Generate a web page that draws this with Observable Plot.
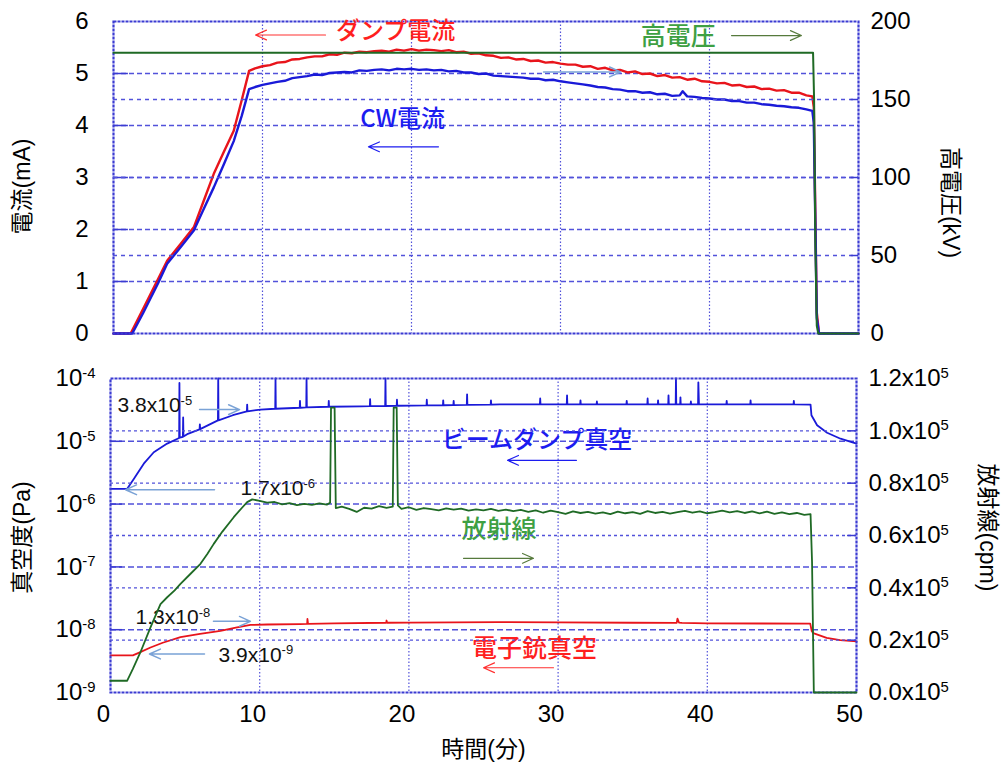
<!DOCTYPE html>
<html><head><meta charset="utf-8">
<script src="https://cdn.jsdelivr.net/npm/d3@7"></script>
<script src="https://cdn.jsdelivr.net/npm/@observablehq/plot@0.6"></script>
<style>
body{margin:0;background:#fff;}
#chart{position:relative;width:1001px;height:764px;background:#fff;}
#chart svg{position:absolute;left:0;top:0;}
</style></head><body><div id="chart"></div>
<script>
// ---------- tick values ----------
const xTicks = [0, 10, 20, 30, 40, 50];
const mATicks = [0, 1, 2, 3, 4, 5, 6];
const kVTicks = [0, 50, 100, 150, 200];
const paTicks = [1e-9, 1e-8, 1e-7, 1e-6, 1e-5, 1e-4];
const cpmTicks = [0, 20000, 40000, 60000, 80000, 100000, 120000];
const gridX = [10, 20, 30, 40];
const gridMA = [1, 2, 3, 4, 5];
const gridKV = [50, 100, 150];
const gridPa = [1e-8, 1e-7, 1e-6, 1e-5];
const gridCpm = [20000, 40000, 60000, 80000, 100000];

// ---------- top panel: currents (mA) and high voltage (kV) vs time (min) ----------
const dumpCurrent = [[0,0],[1.15,0],[2.0,0.48],[3.0,1.05],[3.6,1.40],[4.5,1.72],[5.4,2.05],[6.0,2.51],[6.73,3.07],[7.4,3.49],[8.07,3.90],[8.6,4.48],[9.1,5.05],
[9.5,5.10],[10,5.14],[10.5,5.16],[11,5.21],[11.5,5.22],[12,5.27],[12.5,5.28],[13,5.31],[13.5,5.33],[14,5.33],[14.5,5.37],[15,5.36],[15.5,5.40],[16,5.39],[16.5,5.42],[17,5.41],[17.5,5.43],[18,5.44],[18.5,5.42],[19,5.46],[19.5,5.44],[20,5.47],[20.5,5.44],[21,5.46],[21.5,5.45],[22,5.43],[22.5,5.45],[23,5.41],[23.5,5.42],[24,5.38],[24.5,5.39],[25,5.35],[25.5,5.34],[26,5.30],[26.5,5.31],[27,5.27],[27.5,5.28],[28,5.24],[28.5,5.25],[29,5.21],[29.5,5.22],[30,5.19],[30.5,5.17],[31,5.17],[31.5,5.13],[32,5.14],[32.5,5.09],[33,5.11],[33.5,5.06],[34,5.07],[34.5,5.02],[35,5.04],[35.5,4.99],[36,5.00],[36.5,4.95],[37,4.97],[37.5,4.92],[38,4.93],[38.5,4.88],[39,4.90],[39.5,4.85],[40,4.84],[40.5,4.81],[41,4.82],[41.5,4.77],[42,4.78],[42.5,4.74],[43,4.75],[43.5,4.70],[44,4.71],[44.5,4.67],[45,4.68],[45.5,4.63],[46,4.63],[46.5,4.58],[46.9,4.56],[47.0,4.35],[47.2,0.4],[47.35,0],[50,0]];
const cwCurrent = [[0,0],[1.26,0],[2.0,0.40],[3.0,0.97],[3.6,1.34],[4.5,1.66],[5.39,1.98],[6.0,2.36],[6.73,2.81],[7.4,3.25],[8.07,3.70],[8.6,4.18],[9.1,4.70],
[9.5,4.74],[10,4.78],[10.5,4.81],[11,4.84],[11.5,4.86],[12,4.91],[12.5,4.93],[13,4.95],[13.5,4.98],[14,4.97],[14.5,5.01],[15,5.02],[15.5,5.03],[16,5.02],[16.5,5.06],[17,5.05],[17.5,5.07],[18,5.08],[18.5,5.06],[19,5.09],[19.5,5.08],[20,5.09],[20.5,5.07],[21,5.08],[21.5,5.06],[22,5.07],[22.5,5.04],[23,5.05],[23.5,5.02],[24,5.02],[24.5,4.99],[25,5.00],[25.5,4.96],[26,4.95],[26.5,4.94],[27,4.93],[27.5,4.92],[28,4.90],[28.5,4.90],[29,4.87],[29.5,4.88],[30,4.85],[30.5,4.83],[31,4.81],[31.5,4.79],[32,4.77],[32.5,4.74],[33,4.73],[33.5,4.70],[34,4.69],[34.5,4.66],[35,4.66],[35.5,4.63],[36,4.64],[36.5,4.60],[37,4.61],[37.5,4.57],[38,4.58],[38.2,4.66],[38.5,4.56],[39,4.55],[39.5,4.53],[40,4.52],[40.5,4.50],[41,4.50],[41.5,4.47],[42,4.47],[42.5,4.44],[43,4.44],[43.5,4.41],[44,4.40],[44.5,4.38],[45,4.37],[45.5,4.35],[46,4.34],[46.5,4.31],[46.9,4.28],[47.0,4.05],[47.2,0.3],[47.35,0],[50,0]];
const highVoltage = [[0,180],[46.95,180],[47.02,150],[47.1,60],[47.2,5],[47.3,0],[50,0]];

// ---------- bottom panel: vacuum (Pa, log) and radiation (cpm) ----------
const dumpVacuum = [[0,1.75e-6],[1.12,1.75e-6],[1.56,2.5e-6],[2.23,4.4e-6],[2.9,6.7e-6],[3.8,9.2e-6],[4.6,1.13e-5],[4.62,8.5e-5],[4.64,1.14e-5],[4.85,1.18e-5],[4.87,2.4e-5],[4.89,1.19e-5],[5.14,1.3e-5],[5.97,1.55e-5],[5.99,1.86e-5],[6.01,1.56e-5],[7.2,2.15e-5],[7.22,1e-4],[7.24,2.16e-5],[8.2,2.6e-5],[9.14,3.0e-5],[9.16,3.85e-5],[9.18,3.0e-5],[10.05,3.2e-5],[11.04,3.3e-5],[11.06,1e-4],[11.08,3.3e-5],[12.68,3.42e-5],[12.7,4.4e-5],[12.72,3.42e-5],[13.12,3.48e-5],[13.14,1e-4],[13.16,3.48e-5],[14.61,3.55e-5],[14.63,4.4e-5],[14.65,3.55e-5],[16.8,3.6e-5],[17.38,3.62e-5],[17.4,4.7e-5],[17.42,3.62e-5],[18.41,3.65e-5],[18.43,1e-4],[18.45,3.65e-5],[19.18,3.68e-5],[19.2,4.6e-5],[19.22,3.68e-5],[21.18,3.72e-5],[21.2,4.6e-5],[21.22,3.72e-5],[22.28,3.75e-5],[22.3,4.5e-5],[22.32,3.75e-5],[22.98,3.78e-5],[23.0,4.4e-5],[23.02,3.78e-5],[23.88,3.8e-5],[23.9,5.6e-5],[23.92,3.8e-5],[25.48,3.85e-5],[25.5,4.5e-5],[25.52,3.85e-5],[26.1,3.88e-5],[28.78,3.88e-5],[28.8,4.8e-5],[28.82,3.88e-5],[30.58,3.88e-5],[30.6,5.4e-5],[30.62,3.88e-5],[31.48,3.88e-5],[31.5,4.5e-5],[31.52,3.88e-5],[32.58,3.88e-5],[32.6,4.3e-5],[32.62,3.88e-5],[34.58,3.88e-5],[34.6,4.4e-5],[34.62,3.88e-5],[35.98,3.88e-5],[36.0,4.8e-5],[36.02,3.88e-5],[36.68,3.88e-5],[36.7,4.5e-5],[36.72,3.88e-5],[37.38,3.88e-5],[37.4,5.4e-5],[37.42,3.88e-5],[37.88,3.88e-5],[37.9,1e-4],[37.92,3.88e-5],[38.18,3.88e-5],[38.2,5.0e-5],[38.22,3.88e-5],[38.88,3.88e-5],[38.9,4.3e-5],[38.92,3.88e-5],[39.38,3.88e-5],[39.4,8.7e-5],[39.44,3.88e-5],[41.28,3.87e-5],[41.3,4.4e-5],[41.32,3.87e-5],[42.88,3.87e-5],[42.9,4.5e-5],[42.92,3.87e-5],[45.78,3.86e-5],[45.8,4.4e-5],[45.82,3.86e-5],[46.92,3.85e-5],[46.98,2.6e-5],[47.36,1.8e-5],[48.03,1.37e-5],[48.93,1.1e-5],[50,9.2e-6]];
const gunVacuum = [[0,3.9e-9],[1.5,3.9e-9],[2.0,4.4e-9],[2.68,5.2e-9],[3.5,6.2e-9],[4.69,7.6e-9],[6.0,8.6e-9],[7.37,9.6e-9],[8.4,1.08e-8],[9.38,1.19e-8],[10.5,1.21e-8],[12.7,1.23e-8],[13.18,1.24e-8],[13.2,1.48e-8],[13.24,1.24e-8],[15,1.26e-8],[18.48,1.29e-8],[18.5,1.4e-8],[18.54,1.29e-8],[20,1.3e-8],[26,1.32e-8],[30,1.31e-8],[35,1.29e-8],[37.95,1.28e-8],[38.0,1.5e-8],[38.1,1.3e-8],[38.3,1.28e-8],[40,1.26e-8],[46.9,1.25e-8],[47.0,9.5e-9],[47.1,8.8e-9],[48.0,7.4e-9],[48.9,6.8e-9],[50,6.5e-9]];
const radiation = [[0,4500],[1.12,4500],[1.5,9000],[2.0,15300],[2.68,24900],[3.35,33800],[3.8,36400],[4.3,39000],[4.69,41500],[5.3,45000],[6.03,49200],[6.5,53000],[6.92,56800],[7.5,61500],[8.26,67000],[8.8,70500],[9.16,72750],[9.5,73800],
[10,73200],[10.5,72600],[11,72800],[11.5,71900],[12,72400],[12.5,71600],[13,72100],[13.5,71700],[14,72300],[14.5,71800],[14.72,72500],[14.78,108900],[15.02,108900],[15.1,70500],[15.5,71000],[16,70200],[16.5,69000],[17,70600],[17.5,70300],[18,71200],[18.5,70600],[18.92,71000],[18.98,108900],[19.18,108900],[19.26,71500],[19.5,70200],[20,70800],[20.5,69800],[21,70500],[21.5,70100],[22,69600],[22.5,70400],[23,69900],[23.5,70300],[24,69500],[24.5,70000],[25,69600],[25.5,70200],[26,69400],[26.5,69900],[27,69300],[27.5,69800],[28,69000],[28.5,69600],[29,68700],[29.5,69500],[30,68900],[30.5,68300],[31,69200],[31.5,68600],[32,69000],[32.5,68400],[33,68800],[33.5,68200],[34,69100],[34.5,68500],[35,68900],[35.5,68300],[36,69300],[36.5,68600],[37,69000],[37.5,68400],[38,68900],[38.5,69400],[39,68700],[39.5,69200],[40,68500],[40.5,68900],[41,69500],[41.5,68800],[42,69300],[42.5,68600],[43,69200],[43.5,68500],[44,69100],[44.5,68300],[45,68800],[45.5,68200],[46,68600],[46.5,67900],[46.92,68200],[47.02,50000],[47.14,0],[50,0]];

// ---------- styling ----------
const W = 1001, H = 764;
const NUM = "'Liberation Sans', Arial, 'Noto Sans CJK JP', sans-serif";
const CJK = "'Noto Sans CJK JP', 'Liberation Sans', sans-serif";
const FRAME = "#3b3bd2", GRID = "#5252da";
const RED = "#e8141b", BLUE = "#1a1ad8", GREEN = "#1f6a25";
const TXT_RED = "#ff1f1f", TXT_BLUE = "#1c1cf0", TXT_GREEN = "#3ea043", OLIVE = "#567a3c", STEEL = "#7aa2d6";
const tbl = arr => arr.map(([t, v]) => ({t, v}));
const baseStyle = {background: "transparent", fontFamily: NUM, color: "#000", overflow: "visible"};
const topM = {width: W, height: H, marginLeft: 113, marginRight: 143, marginTop: 21, marginBottom: 431};
const botM = {width: W, height: H, marginLeft: 110, marginRight: 145, marginTop: 378, marginBottom: 72};
const arrow = (x1, y1, x2, y2, stroke, sw = 1.2) => Plot.arrow([0], {x1, y1, x2, y2, stroke, strokeWidth: sw, headAngle: 48, headLength: 18 / sw});
const note = (text, x, y, fill, size = 24, anchor = "middle", font = CJK) => Plot.text([text], {x, y, text: d => d, fill, fontSize: size, textAnchor: anchor, fontFamily: font, fontWeight: 500});
const title = (text, anchor, dx, dy, rotate) => Plot.text([text], {frameAnchor: anchor, text: d => d, dx, dy, rotate, textAnchor: "middle", lineAnchor: "middle", fontSize: 23, fontFamily: NUM, fill: "#000"});

function superscripts(svg) {
  d3.select(svg).selectAll("text").each(function () {
    const s = this.textContent;
    if (!s.includes("^")) return;
    const [base, ex] = s.split("^");
    const el = d3.select(this);
    el.text(null);
    el.append("tspan").text(base);
    el.append("tspan").attr("font-size", "0.62em").attr("dy", "-0.55em").text(ex);
  });
  return svg;
}

// ---------- top-left: current (mA) ----------
const p1 = Plot.plot({
  ...topM, style: baseStyle,
  x: {domain: [0, 50], axis: null},
  y: {domain: [0, 6], label: null},
  marks: [
    Plot.ruleX(gridX, {stroke: GRID, strokeWidth: 1.2, strokeDasharray: "1.5,2"}),
    Plot.ruleY(gridMA, {stroke: GRID, strokeWidth: 1.4, strokeDasharray: "5,3"}),
    Plot.ruleY(mATicks.slice(1, -1), {x1: 0, x2: 1, stroke: FRAME, strokeWidth: 1.5}),
    Plot.line(tbl(dumpCurrent), {x: "t", y: "v", stroke: RED, strokeWidth: 2.4}),
    Plot.line(tbl(cwCurrent), {x: "t", y: "v", stroke: BLUE, strokeWidth: 2.4}),
    Plot.frame({stroke: FRAME, strokeWidth: 2.2, strokeDasharray: "3,1"}),
    Plot.axisY({anchor: "left", ticks: mATicks, tickSize: 0, tickPadding: 25, fontSize: 24, label: null, tickFormat: d => String(d)}),
    note("ダンプ電流", 18.93, 5.82, TXT_RED),
    arrow(14.23, 5.74, 9.53, 5.74, "#ff3030"),
    note("CW電流", 19.4, 4.11, TXT_BLUE),
    arrow(21.81, 3.59, 17.11, 3.59, TXT_BLUE),
    arrow(28.86, 5.03, 34.03, 5.03, STEEL, 1.5),
    title("電流(mA)", "left", -91, 9, -90)
  ]
});

// ---------- top-right: high voltage (kV) ----------
const p2 = Plot.plot({
  ...topM, style: baseStyle,
  x: {domain: [0, 50], axis: null},
  y: {domain: [0, 200], label: null},
  marks: [
    Plot.ruleY(gridKV, {stroke: GRID, strokeWidth: 1.4, strokeDasharray: "4,4"}),
    Plot.ruleY(kVTicks.slice(1, -1), {x1: 49.5, x2: 50, stroke: FRAME, strokeWidth: 1.5}),
    Plot.line(tbl(highVoltage), {x: "t", y: "v", stroke: GREEN, strokeWidth: 2}),
    Plot.axisY({anchor: "right", ticks: kVTicks, tickSize: 0, tickPadding: 12, fontSize: 24, label: null, tickFormat: d => String(d)}),
    note("高電圧", 37.9, 190, TXT_GREEN, 25),
    arrow(41.48, 191, 46.17, 191, OLIVE),
    title("高電圧(kV)", "right", 92, 25, 90)
  ]
});

// ---------- bottom-left: vacuum (Pa) ----------
const p3 = Plot.plot({
  ...botM, style: baseStyle,
  x: {domain: [0, 50], label: null},
  y: {type: "log", domain: [1e-9, 1e-4], label: null},
  marks: [
    Plot.ruleX(gridX, {stroke: GRID, strokeWidth: 1.2, strokeDasharray: "1.5,2"}),
    Plot.ruleY(gridPa, {stroke: GRID, strokeWidth: 1.5, strokeDasharray: "6,3"}),
    Plot.ruleY(paTicks.slice(1, -1), {x1: 0, x2: 0.8, stroke: FRAME, strokeWidth: 1.5}),
    Plot.line(tbl(dumpVacuum), {x: "t", y: "v", stroke: BLUE, strokeWidth: 1.8}),
    Plot.line(tbl(gunVacuum), {x: "t", y: "v", stroke: RED, strokeWidth: 1.8}),
    Plot.frame({stroke: FRAME, strokeWidth: 2.2, strokeDasharray: "3,1"}),
    Plot.axisY({anchor: "left", ticks: paTicks, tickSize: 0, tickPadding: 15, fontSize: 24, label: null, tickFormat: d => "10^" + Math.round(Math.log10(d))}),
    Plot.axisX({anchor: "bottom", ticks: xTicks, tickSize: 0, tickPadding: 12, fontSize: 24, label: null, dx: -7, tickFormat: d => String(d)}),
    note("ビームダンプ真空", 28.58, 1.04e-5, TXT_BLUE),
    arrow(31.23, 4.98e-6, 26.61, 4.98e-6, TXT_BLUE),
    note("放射線", 26.04, 3.8e-7, TXT_GREEN, 25),
    arrow(23.66, 1.37e-7, 28.35, 1.37e-7, OLIVE),
    note("電子銃真空", 28.42, 4.98e-9, TXT_RED, 25),
    arrow(29.69, 2.48e-9, 25.0, 2.48e-9, "#ff3030"),
    note("3.8x10^-5", 0.47, 3.75e-5, "#111", 21, "start", NUM),
    arrow(5.97, 3.2e-5, 8.65, 3.2e-5, STEEL, 1.5),
    note("1.7x10^-6", 8.71, 1.78e-6, "#111", 21, "start", NUM),
    arrow(6.97, 1.69e-6, 1.01, 1.69e-6, STEEL, 1.5),
    note("1.3x10^-8", 1.68, 1.58e-8, "#111", 21, "start", NUM),
    arrow(6.9, 1.36e-8, 9.38, 1.36e-8, STEEL, 1.5),
    note("3.9x10^-9", 7.24, 3.98e-9, "#111", 21, "start", NUM),
    arrow(6.3, 4.1e-9, 2.61, 4.1e-9, STEEL, 1.5),
    title("真空度(Pa)", "left", -88, 2, -90),
    Plot.text(["時間(分)"], {frameAnchor: "bottom", text: d => d, dy: 57, lineAnchor: "middle", fontSize: 23, fontFamily: NUM, fill: "#000"})
  ]
});

// ---------- bottom-right: radiation (cpm) ----------
const p4 = Plot.plot({
  ...botM, style: baseStyle,
  x: {domain: [0, 50], axis: null},
  y: {domain: [0, 120000], label: null},
  marks: [
    Plot.ruleY(gridCpm, {stroke: GRID, strokeWidth: 1.3, strokeDasharray: "3,3"}),
    Plot.ruleY(cpmTicks.slice(1, -1), {x1: 49.4, x2: 50, stroke: FRAME, strokeWidth: 1.5}),
    Plot.line(tbl(radiation), {x: "t", y: "v", stroke: GREEN, strokeWidth: 1.8}),
    Plot.axisY({anchor: "right", ticks: cpmTicks, tickSize: 0, tickPadding: 12, fontSize: 24, label: null, tickFormat: d => (d / 1e5).toFixed(1) + "x10^5"}),
    title("放射線(cpm)", "right", 131, -8, 90)
  ]
});

const chart = document.getElementById("chart");
for (const p of [p1, p2, p3, p4]) chart.appendChild(superscripts(p));
</script></body></html>
